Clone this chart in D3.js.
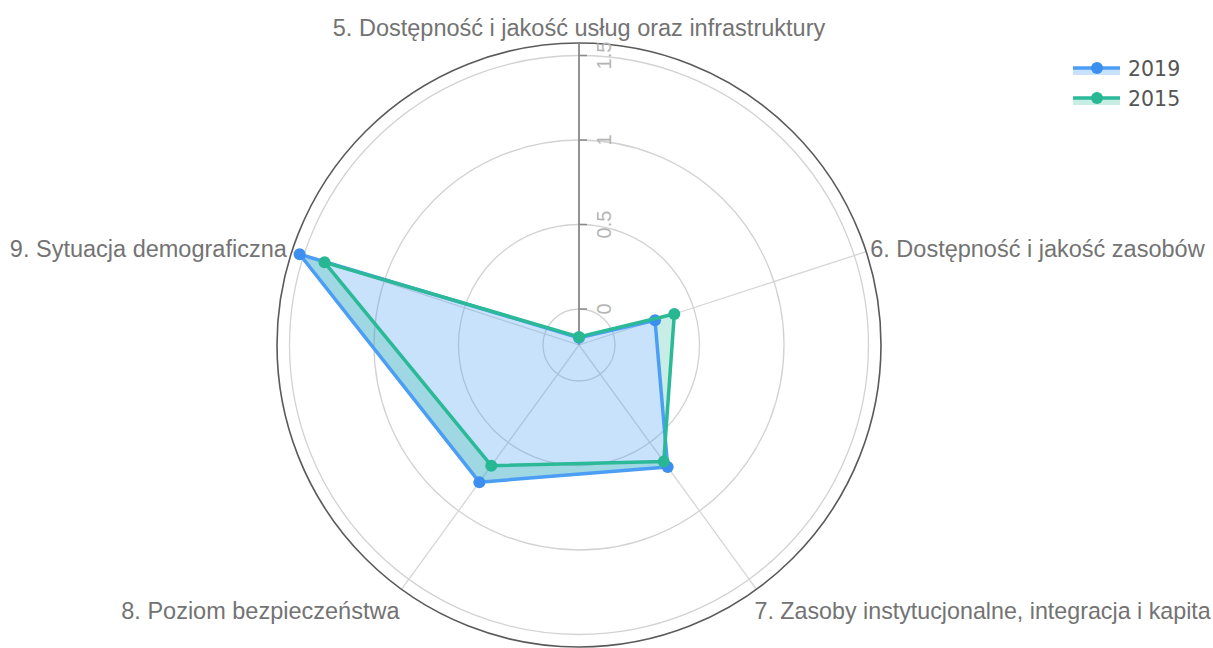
<!DOCTYPE html>
<html>
<head>
<meta charset="utf-8">
<script src="https://cdn.jsdelivr.net/npm/d3@7"></script>
<style>
  html, body { margin: 0; padding: 0; background: #fff; overflow: hidden; }
  svg { display: block; }
</style>
</head>
<body>
<svg id="chart" width="1213" height="648"></svg>
<script>
// ---- data ----
const categories = [
  "5. Dostępność i jakość usług oraz infrastruktury",
  "6. Dostępność i jakość zasobów",
  "7. Zasoby instytucjonalne, integracja i kapita",
  "8. Poziom bezpieczeństwa",
  "9. Sytuacja demograficzna"
];
const values2019 = [-0.17, 0.26, 0.68, 0.79, 1.525];
const values2015 = [-0.165, 0.38, 0.64, 0.67, 1.37];
const seriesNames = ["2019", "2015"];
const radialTicks = [0, 0.5, 1, 1.5];
const radialRange = [-0.213, 1.574];

// ---- layout ----
const W = 1213, H = 648;
const cx = 579, cy = 345, R = 302;
const colors = {
  "2019": { line: "#4b9ef4", marker: "#3d8fef", fill: "rgba(74,159,245,0.30)" },
  "2015": { line: "#2bb998", marker: "#27b893", fill: "rgba(43,185,154,0.26)" }
};

const svg = d3.select("#chart");
const g = svg.append("g").attr("transform", `translate(${cx},${cy})`);

const r = d3.scaleLinear().domain(radialRange).range([0, R]);
const angle = d3.scaleLinear().domain([0, categories.length]).range([0, 2 * Math.PI]);

// grid circles
g.selectAll("circle.grid").data(radialTicks).join("circle")
  .attr("class", "grid")
  .attr("r", d => r(d))
  .attr("fill", "none")
  .attr("stroke", "#d2d2d2")
  .attr("stroke-width", 1.3);

// angular spokes
g.selectAll("line.spoke").data(categories).join("line")
  .attr("class", "spoke")
  .attr("x1", 0).attr("y1", 0)
  .attr("x2", (d, i) => R * Math.sin(angle(i)))
  .attr("y2", (d, i) => -R * Math.cos(angle(i)))
  .attr("stroke", "#d6d6d6")
  .attr("stroke-width", 1.3);

// outer circle (angular axis line)
g.append("circle").attr("r", R).attr("fill", "none")
  .attr("stroke", "#5a5a5a").attr("stroke-width", 1.6);

// radial axis line (along first category, pointing up)
g.append("line").attr("x1", 0).attr("y1", 0).attr("x2", 0).attr("y2", -R)
  .attr("stroke", "#8a8a8a").attr("stroke-width", 1.8);

// radial ticks + labels
const rt = g.selectAll("g.rtick").data(radialTicks).join("g")
  .attr("class", "rtick")
  .attr("transform", d => `translate(0,${-r(d)})`);
rt.append("line").attr("x1", 0).attr("x2", 8).attr("y1", 0).attr("y2", 0)
  .attr("stroke", "#8a8a8a").attr("stroke-width", 1.5);
rt.append("text")
  .attr("transform", "translate(25,0) rotate(-90)")
  .attr("text-anchor", "middle")
  .attr("dominant-baseline", "central")
  .attr("font-family", "Liberation Sans, Arial, sans-serif")
  .attr("font-size", 20)
  .attr("fill", "#b4b4b4")
  .text(d => d3.format("")(d));

// polygons
const radial = d3.lineRadial()
  .angle((d, i) => angle(i))
  .radius(d => r(d))
  .curve(d3.curveLinearClosed);

// 2019 filled to self
g.append("path").attr("d", radial(values2019))
  .attr("fill", colors["2019"].fill).attr("stroke", "none");
// 2015 filled to next (band between the two series)
g.append("path").attr("d", radial(values2019) + radial(values2015))
  .attr("fill", colors["2015"].fill).attr("fill-rule", "evenodd").attr("stroke", "none");

function drawSeries(vals, name) {
  const c = colors[name];
  g.append("path").attr("d", radial(vals))
    .attr("fill", "none").attr("stroke", c.line).attr("stroke-width", 3.5)
    .attr("stroke-linejoin", "round");
  g.selectAll(null).data(vals).join("circle")
    .attr("cx", (d, i) => r(d) * Math.sin(angle(i)))
    .attr("cy", (d, i) => -r(d) * Math.cos(angle(i)))
    .attr("r", 6)
    .attr("fill", c.marker);
}
drawSeries(values2019, "2019");
drawSeries(values2015, "2015");

// category labels
g.selectAll("text.cat").data(categories).join("text")
  .attr("class", "cat")
  .attr("font-family", "Liberation Sans, Arial, sans-serif")
  .attr("font-size", 23.5)
  .attr("fill", "#737373")
  .each(function(d, i) {
    const a = angle(i), s = Math.sin(a), c = Math.cos(a);
    let x = R * s, y = -R * c;
    let anchor = "middle";
    if (s > 0.1) { anchor = "start"; }
    else if (s < -0.1) { anchor = "end"; }
    if (c > 0.5) { y -= 7; }
    else if (c < -0.5) { y += 30; x -= 2; }
    else { y += 5.6; x += (s > 0 ? 4 : -5); }
    const t = d3.select(this).attr("x", x).attr("y", y).attr("text-anchor", anchor).text(d);
    // keep the label inside the picture
    let fs = 23.5;
    let bb = this.getBBox();
    while ((cx + bb.x + bb.width > W - 2 || cx + bb.x < 2) && fs > 12) {
      fs -= 0.25;
      t.attr("font-size", fs);
      bb = this.getBBox();
    }
  });

// legend
const legend = svg.append("g").attr("transform", "translate(1073,68)");
const li = legend.selectAll("g").data(seriesNames).join("g")
  .attr("transform", (d, i) => `translate(0,${i * 30})`);
li.append("rect").attr("x", 0).attr("y", 0).attr("width", 47).attr("height", 7)
  .attr("fill", d => colors[d].fill);
li.append("line").attr("x1", 0).attr("x2", 47).attr("y1", 0).attr("y2", 0)
  .attr("stroke", d => colors[d].line).attr("stroke-width", 3.5);
li.append("circle").attr("cx", 24).attr("cy", 0).attr("r", 6)
  .attr("fill", d => colors[d].marker);
li.append("text").attr("x", 55).attr("y", 8)
  .attr("font-family", "DejaVu Sans, sans-serif")
  .attr("font-size", 20.5)
  .attr("fill", "#555")
  .text(d => d);
</script>
</body>
</html>
